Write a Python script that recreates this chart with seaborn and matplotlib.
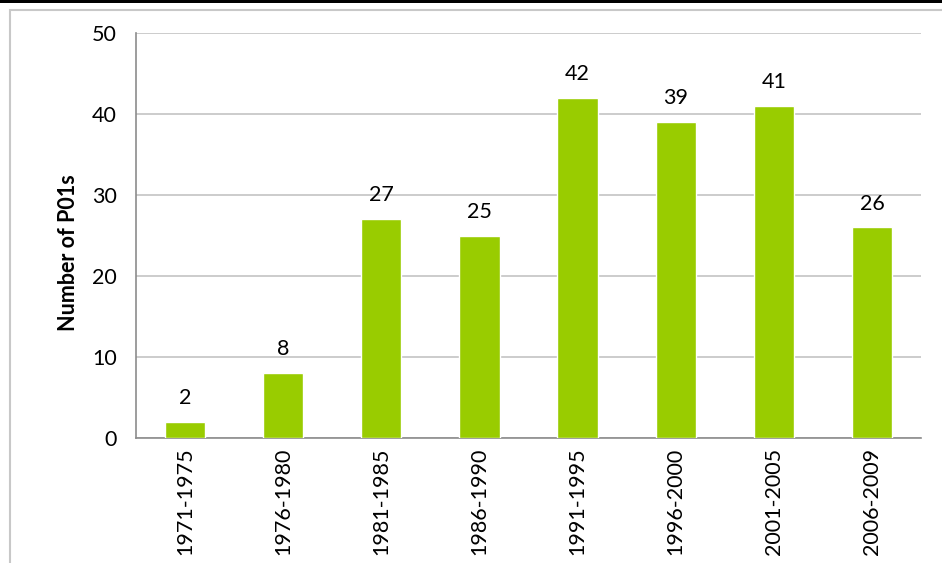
import pandas as pd
import seaborn as sns
import matplotlib.pyplot as plt
from matplotlib.patches import Rectangle

# Datos del gráfico
periodos = ["1971-1975", "1976-1980", "1981-1985", "1986-1990",
            "1991-1995", "1996-2000", "2001-2005", "2006-2009"]
num_p01 = [2, 8, 27, 25, 42, 39, 41, 26]

df = pd.DataFrame({"Periodo": periodos, "P01s": num_p01})

sns.set_style("white")
plt.rcParams["font.family"] = ["Lato", "DejaVu Sans"]

fig = plt.figure(figsize=(9.42, 5.63), dpi=100)
ax = fig.add_axes([136/942, 1-438/563, (921-136)/942, (438-33)/563])

# marco exterior y franja negra superior
fig.patches.append(Rectangle((10/942, -0.1), 1.2, 1-10/563+0.1, transform=fig.transFigure,
                             fill=False, edgecolor="#c8c8c8", linewidth=1.5))
fig.patches.append(Rectangle((0, 1-3/563), 1, 3/563, transform=fig.transFigure,
                             facecolor="black", edgecolor="none"))

sns.barplot(data=df, x="Periodo", y="P01s", color="#99CC00", width=0.41,
            saturation=1, ax=ax, zorder=3)

# etiquetas de valor encima de cada barra
for i, v in enumerate(num_p01):
    ax.annotate(str(v), (i, v), xytext=(0, 10), textcoords="offset points",
                ha="center", va="bottom", fontsize=15.5, color="black")

ax.set_ylim(0, 50)
ax.set_yticks(range(0, 51, 10))
ax.set_xlim(-0.5, len(periodos) - 0.5)
ax.yaxis.grid(True, color="#c4c4c4", linewidth=1.2, zorder=0)
ax.set_axisbelow(True)
ax.tick_params(axis="both", length=0, labelsize=15.5, labelcolor="black")
ax.tick_params(axis="x", pad=7)
ax.tick_params(axis="y", pad=14)
plt.xticks(rotation=90)
ax.set_xlabel("")
ax.set_ylabel("Number of P01s", fontsize=15.5, fontweight="bold", color="black")
ax.yaxis.set_label_coords(-0.073, 0.457)

for s in ["top", "right"]:
    ax.spines[s].set_visible(False)
for s in ["left", "bottom"]:
    ax.spines[s].set_color("#8c8c8c")
    ax.spines[s].set_linewidth(1.2)

fig.savefig("out.png", dpi=100)
